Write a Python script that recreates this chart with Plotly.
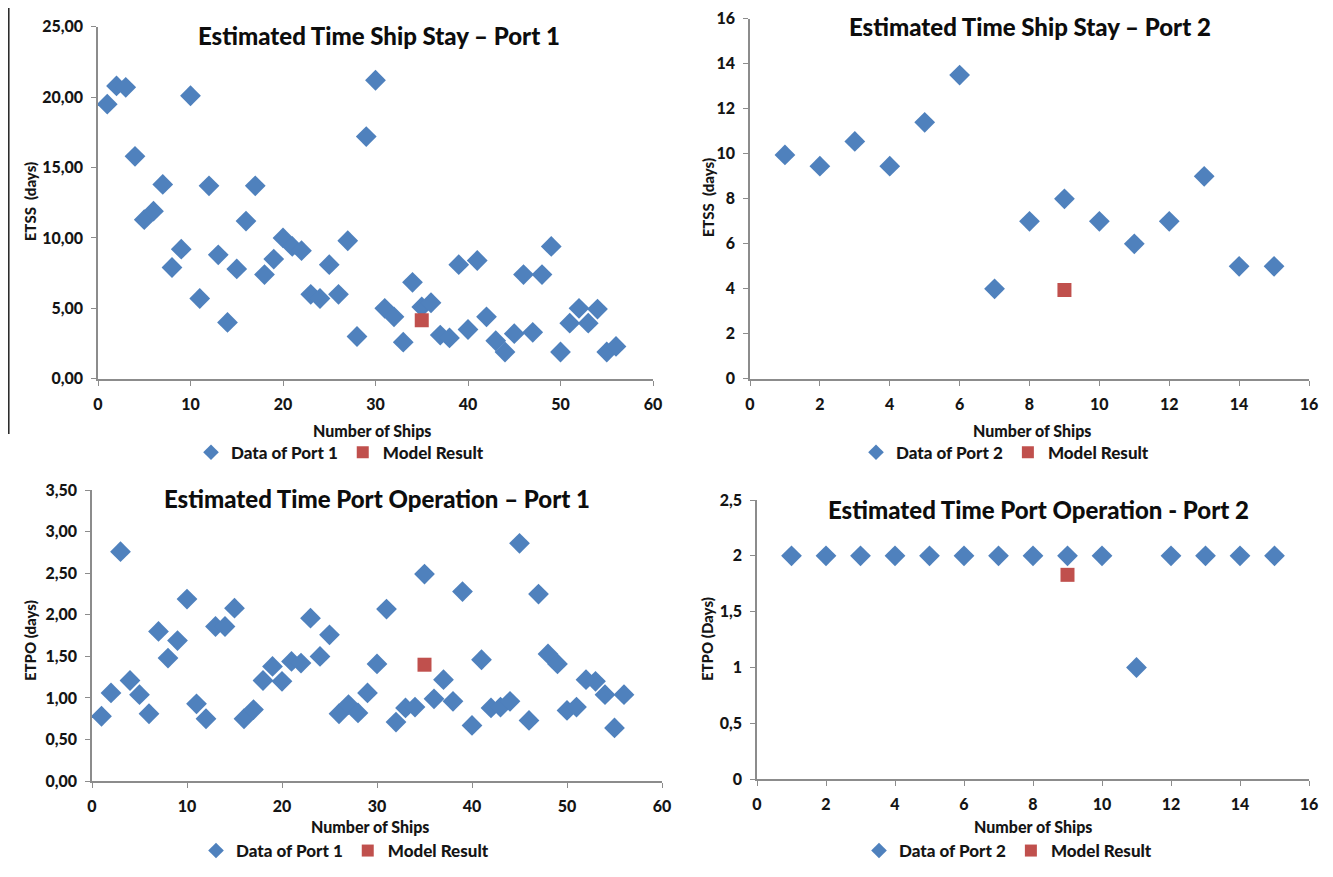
import plotly.graph_objects as go

# ---------------- data ----------------
ships_p1 = list(range(1, 57))
etss_p1 = [19.5, 20.8, 20.7, 15.8, 11.3, 11.9, 13.8, 7.9, 9.2, 20.1,
           5.7, 13.7, 8.8, 4.0, 7.8, 11.2, 13.7, 7.4, 8.5, 10.0,
           9.4, 9.1, 6.0, 5.7, 8.1, 6.0, 9.8, 3.0, 17.2, 21.2,
           5.0, 4.4, 2.6, 6.85, 5.1, 5.4, 3.1, 2.9, 8.1, 3.5,
           8.4, 4.4, 2.7, 1.9, 3.2, 7.4, 3.3, 7.4, 9.4, 1.9,
           3.95, 5.0, 3.95, 4.95, 1.9, 2.3]
etpo_p1 = [0.78, 1.06, 2.76, 1.21, 1.04, 0.81, 1.80, 1.48, 1.69, 2.19,
           0.93, 0.75, 1.86, 1.86, 2.08, 0.75, 0.86, 1.21, 1.38, 1.20,
           1.44, 1.42, 1.96, 1.50, 1.76, 0.81, 0.92, 0.82, 1.06, 1.41,
           2.07, 0.71, 0.88, 0.89, 2.49, 0.99, 1.22, 0.96, 2.28, 0.67,
           1.46, 0.88, 0.89, 0.96, 2.86, 0.73, 2.25, 1.53, 1.41, 0.85,
           0.89, 1.22, 1.20, 1.04, 0.64, 1.04]
model_p1_x = [35]
model_p1_etss = [4.15]
model_p1_etpo = [1.40]

ships_p2 = list(range(1, 16))
etss_p2 = [9.95, 9.45, 10.55, 9.45, 11.4, 13.5, 4.0, 7.0, 8.0, 7.0,
           6.0, 7.0, 9.0, 5.0, 5.0]
etpo_p2 = [2, 2, 2, 2, 2, 2, 2, 2, 2, 2, 1, 2, 2, 2, 2]
model_p2_x = [9]
model_p2_etss = [3.95]
model_p2_etpo = [1.83]

titles = ["Estimated Time Ship Stay \u2013 Port 1",
          "Estimated Time Ship Stay \u2013 Port 2",
          "Estimated Time Port Operation \u2013 Port 1",
          "Estimated Time Port Operation - Port 2"]
ytitles = ["ETSS  (days)", "ETSS  (days)", "ETPO (days)", "ETPO (Days)"]
xtitle = "Number of Ships"
data_names = ["Data of Port 1", "Data of Port 2", "Data of Port 1", "Data of Port 2"]
model_name = "Model Result"

# ---------------- style ----------------
PAGE_W, PAGE_H = 1333, 877
BODY = 8                      # default page margin around the figure
W, H = PAGE_W - 2 * BODY, PAGE_H - 2 * BODY
BLUE = "#4F81BD"
RED = "#C0504D"
AX = "#8C8C8C"
FONT = "Lato"
TXT = "#151515"

def px_x(p):
    return (p - BODY) / W

def px_y(p):
    return 1 - (p - BODY) / H

# plot areas in page pixels: (x0, x1, ytop, ybottom)
areas = [(98, 653, 27, 384), (750, 1309, 19, 384),
         (92, 662, 497, 792), (757, 1309, 507, 790)]
xranges = [[0, 60], [0, 16], [0, 60], [0, 16]]
yranges = [[0, 25], [0, 16], [0, 3.5], [0, 2.5]]
xdt = [10, 2, 10, 2]
ydt = [5, 2, 0.5, 0.5]
yfmt = [".2f", "d", ".2f", ""]

series = [(ships_p1, etss_p1, model_p1_x, model_p1_etss),
          (ships_p2, etss_p2, model_p2_x, model_p2_etss),
          (ships_p1, etpo_p1, model_p1_x, model_p1_etpo),
          (ships_p2, etpo_p2, model_p2_x, model_p2_etpo)]

fig = go.Figure()
layout = dict(width=W, height=H, margin=dict(l=0, r=0, t=0, b=0),
              paper_bgcolor="white", plot_bgcolor="white",
              separators=",.", font=dict(family=FONT, color=TXT),
              showlegend=True)

title_pos = [(379, 36), (1030, 27), (377, 505), (1038, 517)]
xtitle_pos = [(372, 436), (1032, 436), (370, 838), (1033, 838)]
ytitle_pos = [(30, 205), (708, 200), (30, 650), (707, 648)]
legend_pos = [(340, 459), (1005, 459), (345, 863), (1008, 863)]

tickfont = dict(family=FONT, size=16, weight=900, color=TXT)

annotations = []
for i in range(4):
    k = "" if i == 0 else str(i + 1)
    x0, x1, yt, yb = areas[i]
    layout["xaxis" + k] = dict(
        domain=[px_x(x0), px_x(x1)], range=xranges[i], dtick=xdt[i], tick0=0,
        anchor="y" + k, showgrid=False, zeroline=False, showline=True,
        linecolor=AX, linewidth=1.5, ticks="outside", ticklen=5, tickcolor=AX,
        automargin=False, tickfont=tickfont, ticklabelstandoff=5,
        ticklabeloverflow="allow")
    layout["yaxis" + k] = dict(
        domain=[px_y(yb), px_y(yt)], range=yranges[i], dtick=ydt[i], tick0=0,
        anchor="x" + k, showgrid=False, zeroline=False, showline=True,
        linecolor=AX, linewidth=1.5, ticks="outside", ticklen=5, tickcolor=AX,
        tickformat=yfmt[i], automargin=False, tickfont=tickfont,
        ticklabelstandoff=5, ticklabeloverflow="allow")
    lg = "legend" if i == 0 else "legend" + str(i + 1)
    lx, ly = legend_pos[i]
    layout[lg] = dict(orientation="h", x=px_x(lx), y=px_y(ly), xanchor="center",
                      yanchor="middle", bgcolor="rgba(0,0,0,0)",
                      font=dict(family=FONT, size=17, weight=900, color=TXT),
                      itemsizing="constant", tracegroupgap=0, itemwidth=30)
    xs, ys, mx, my = series[i]
    fig.add_trace(go.Scatter(x=xs, y=ys, mode="markers", name=data_names[i],
                             xaxis="x" + k, yaxis="y" + k, legend=lg,
                             marker=dict(symbol="diamond", size=16, color=BLUE,
                                         line=dict(width=0))))
    fig.add_trace(go.Scatter(x=mx, y=my, mode="markers", name=model_name,
                             xaxis="x" + k, yaxis="y" + k, legend=lg,
                             marker=dict(symbol="square", size=14, color=RED,
                                         line=dict(width=0))))
    tx, ty = title_pos[i]
    annotations.append(dict(text=titles[i], x=px_x(tx), y=px_y(ty), xref="paper",
                            yref="paper", showarrow=False, xanchor="center",
                            yanchor="middle",
                            font=dict(family=FONT, size=24, weight=900,
                                      color="#0d0d0d")))
    ax_, ay_ = xtitle_pos[i]
    annotations.append(dict(text=xtitle, x=px_x(ax_), y=px_y(ay_), xref="paper",
                            yref="paper", showarrow=False, xanchor="center",
                            yanchor="middle",
                            font=dict(family=FONT, size=16, weight=900, color=TXT)))
    bx, by = ytitle_pos[i]
    annotations.append(dict(text=ytitles[i], x=px_x(bx), y=px_y(by), xref="paper",
                            yref="paper", showarrow=False, xanchor="center",
                            yanchor="middle", textangle=-90,
                            font=dict(family=FONT, size=15, weight=900, color=TXT)))

layout["annotations"] = annotations
layout["shapes"] = [dict(type="line", xref="paper", yref="paper",
                         x0=px_x(8.8), x1=px_x(8.8), y0=1, y1=px_y(440),
                         line=dict(color="#222222", width=1.5))]
fig.update_layout(**layout)
fig.write_html("out.html")
